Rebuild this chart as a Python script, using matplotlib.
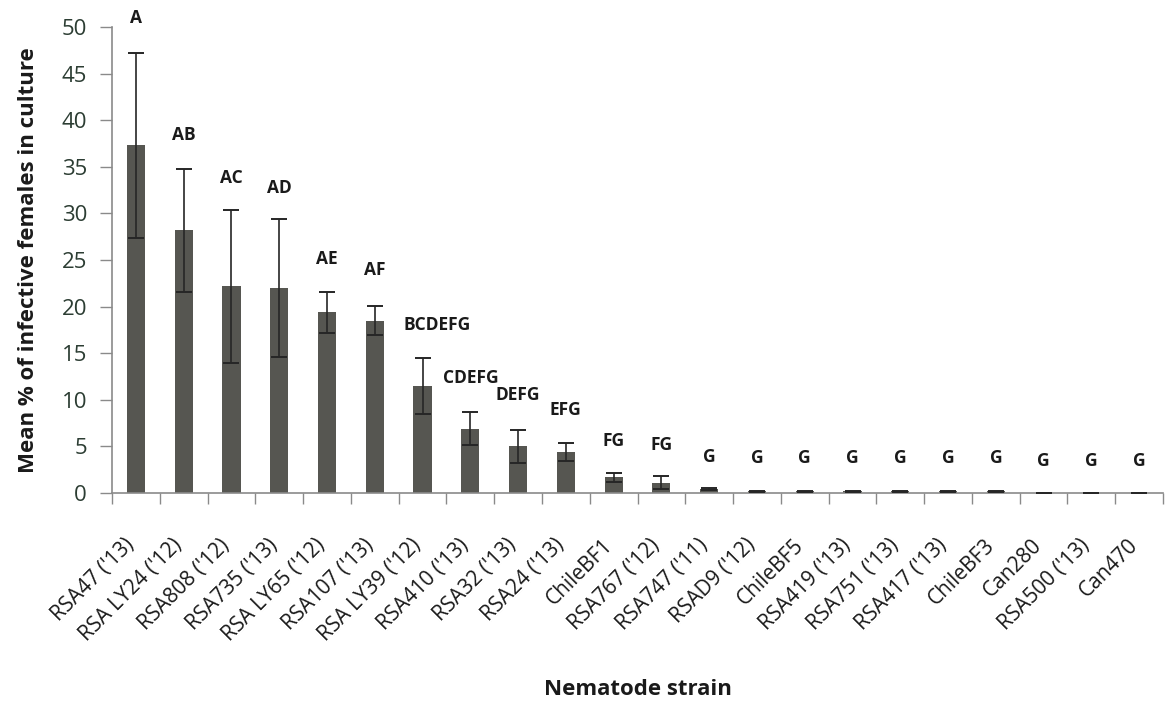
import numpy as np
import matplotlib.pyplot as plt
from matplotlib.transforms import ScaledTranslation

plt.rcParams['font.family'] = ['Open Sans', 'DejaVu Sans']

# strains, means (%), standard errors and significance groups
strains = ["RSA47 ('13)", "RSA LY24 ('12)", "RSA808 ('12)", "RSA735 ('13)",
           "RSA LY65 ('12)", "RSA107 ('13)", "RSA LY39 ('12)", "RSA410 ('13)",
           "RSA32 ('13)", "RSA24 ('13)", "ChileBF1", "RSA767 ('12)",
           "RSA747 ('11)", "RSAD9 ('12)", "ChileBF5", "RSA419 ('13)",
           "RSA751 ('13)", "RSA417 ('13)", "ChileBF3", "Can280",
           "RSA500 ('13)", "Can470"]
means = [37.3, 28.2, 22.2, 22.0, 19.4, 18.5, 11.5, 6.9, 5.0, 4.4, 1.7, 1.1,
         0.4, 0.2, 0.2, 0.2, 0.2, 0.2, 0.2, 0.0, 0.0, 0.0]
errors = [9.9, 6.6, 8.2, 7.4, 2.2, 1.6, 3.0, 1.8, 1.8, 1.0, 0.5, 0.7,
          0.1, 0.05, 0.05, 0.05, 0.05, 0.05, 0.05, 0.0, 0.0, 0.0]
groups = ['A', 'AB', 'AC', 'AD', 'AE', 'AF', 'BCDEFG', 'CDEFG', 'DEFG', 'EFG',
          'FG', 'FG', 'G', 'G', 'G', 'G', 'G', 'G', 'G', 'G', 'G', 'G']
group_y = [51.0, 38.4, 33.8, 32.7, 25.1, 23.9, 18.0, 12.3, 10.5, 8.9,
           5.6, 5.2, 3.9, 3.8, 3.8, 3.8, 3.8, 3.8, 3.8, 3.4, 3.4, 3.4]

fig = plt.figure(figsize=(11.67, 7.05), dpi=100)
ax = fig.add_axes([0.096, 0.3007, 0.9006, 0.661])

x = np.arange(len(strains))
ax.bar(x, means, width=0.38, color='#565651', zorder=2)
ax.errorbar(x, means, yerr=errors, fmt='none', ecolor='#262626',
            elinewidth=1.2, capsize=6, capthick=1.4, zorder=3)

for i, (g, gy) in enumerate(zip(groups, group_y)):
    dx = 0.3 if g == 'BCDEFG' else 0.0
    ax.text(i + dx, gy, g, ha='center', va='center', fontsize=12.5,
            fontweight='bold', color='#1a1a1a')

ax.set_xlim(-0.5, len(strains) - 0.5)
ax.set_ylim(0, 50)
ax.set_yticks(np.arange(0, 51, 5))
ax.tick_params(axis='y', labelsize=16, colors='#8a8a8a', labelcolor='#2c3d33',
               length=9, width=1, pad=9)

ax.set_xticks(np.arange(-0.5, len(strains), 1.0))
ax.set_xticklabels([])
ax.set_xticks(x, minor=True)
ax.set_xticklabels(strains, minor=True, rotation=45, ha='right',
                   rotation_mode='anchor', fontsize=15, color='#1a1a1a')
ax.tick_params(axis='x', which='major', length=8, colors='#8a8a8a', width=1)
ax.tick_params(axis='x', which='minor', length=0, pad=30)
# nudge the slanted labels a little to the left
shift = ScaledTranslation(-12 / 100, 0, fig.dpi_scale_trans)
for lbl in ax.get_xticklabels(minor=True):
    lbl.set_transform(lbl.get_transform() + shift)

for side in ['top', 'right']:
    ax.spines[side].set_visible(False)
for side in ['left', 'bottom']:
    ax.spines[side].set_color('#8a8a8a')
    ax.spines[side].set_linewidth(1.2)

ax.set_ylabel('Mean % of infective females in culture', fontsize=16,
              fontweight='bold', color='#1a1a1a', labelpad=16)
fig.text(0.547, 0.022, 'Nematode strain', ha='center', va='center',
         fontsize=16, fontweight='bold', color='#1a1a1a')

fig.savefig('out.png', dpi=100)
